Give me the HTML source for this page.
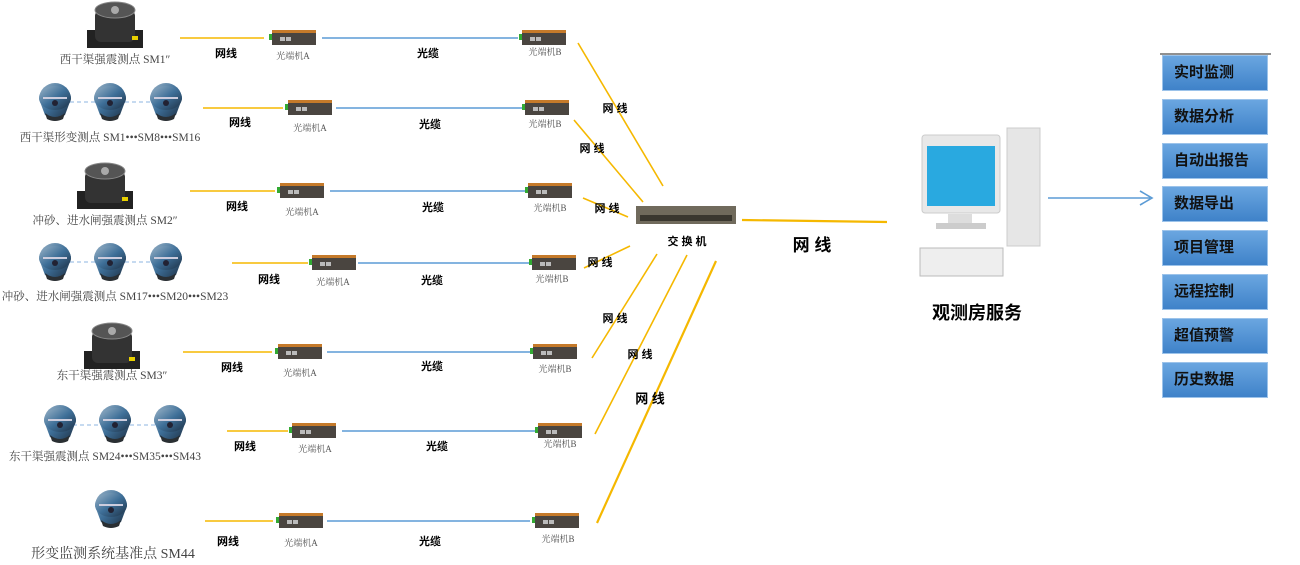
<!DOCTYPE html>
<html><head><meta charset="utf-8"><style>
body{margin:0;background:#fff;}
svg{display:block;font-family:"Liberation Serif","Noto Serif CJK SC",serif;}
.s{font-family:"Liberation Sans","Noto Sans CJK SC",sans-serif;}
.btn{position:absolute;left:1162px;width:106px;height:36px;background:linear-gradient(#6aa6e0,#3f82c9);border:1px solid #9cc3ea;box-sizing:border-box;font:bold 15px "Liberation Sans","Noto Sans CJK SC",sans-serif;color:#111;line-height:34px;padding-left:11px;}
</style></head><body>
<div style="position:relative;width:1300px;height:565px;overflow:hidden">
<svg width="1300" height="565">
<defs>
<linearGradient id="sg" x1="0" y1="0" x2="1" y2="1"><stop offset="0" stop-color="#9bb4c8"/><stop offset=".5" stop-color="#3e6f98"/><stop offset="1" stop-color="#1d3044"/></linearGradient>
<g id="dev"><rect x="-28" y="6" width="56" height="18" fill="#222"/><rect x="-20" y="-14" width="40" height="32" rx="6" fill="#333"/><ellipse cx="0" cy="-14" rx="20" ry="8" fill="#555" stroke="#888"/><circle cx="0" cy="-14" r="4" fill="#aaa"/><rect x="17" y="12" width="6" height="4" fill="#e8d000"/></g>
<g id="sen"><path d="M-16,-4 A16,16 0 0 1 16,-4 L10,12 Q0,18 -10,12 Z" fill="url(#sg)"/><ellipse cx="0" cy="-5" rx="16" ry="12" fill="url(#sg)"/><line x1="-12" y1="-5" x2="12" y2="-5" stroke="#ccd" stroke-width="2"/><circle cx="0" cy="0" r="3" fill="#223"/><path d="M-10,10 Q0,18 10,10 L8,16 Q0,20 -8,16Z" fill="#2a2f33"/></g>
<g id="cv"><rect x="0" y="0" width="44" height="15" fill="#4a4540"/><rect x="0" y="0" width="44" height="3" fill="#c57a2a"/><rect x="8" y="7" width="5" height="4" fill="#bbb"/><rect x="14" y="7" width="5" height="4" fill="#bbb"/><rect x="-3" y="4" width="3" height="6" fill="#3a3"/></g>
</defs>
<g stroke="#f5b800" stroke-width="1.6" fill="none">
<line x1="180" y1="38" x2="264" y2="38"/><line x1="203" y1="108" x2="283" y2="108"/><line x1="190" y1="191" x2="275" y2="191"/><line x1="232" y1="263" x2="308" y2="263"/><line x1="183" y1="352" x2="272" y2="352"/><line x1="227" y1="431" x2="288" y2="431"/><line x1="205" y1="521" x2="273" y2="521"/>
<line x1="578" y1="43" x2="663" y2="186"/><line x1="574" y1="120" x2="643" y2="202"/><line x1="583" y1="198" x2="628" y2="217"/><line x1="584" y1="268" x2="630" y2="246"/><line x1="592" y1="358" x2="657" y2="254"/><line x1="595" y1="434" x2="687" y2="255"/><line x1="597" y1="523" x2="716" y2="261" stroke-width="2.2"/>
<line x1="742" y1="220" x2="887" y2="222" stroke-width="2.2"/>
</g>
<g stroke="#5b9bd5" stroke-width="1.6">
<line x1="322" y1="38" x2="518" y2="38"/><line x1="336" y1="108" x2="522" y2="108"/><line x1="330" y1="191" x2="525" y2="191"/><line x1="358" y1="263" x2="530" y2="263"/><line x1="327" y1="352" x2="530" y2="352"/><line x1="342" y1="431" x2="535" y2="431"/><line x1="327" y1="521" x2="530" y2="521"/>
<line x1="1048" y1="198" x2="1150" y2="198"/><polyline points="1140,191 1152,198 1140,205" fill="none"/>
</g>
<g stroke="#8db4e2" stroke-dasharray="4,3"><line x1="70" y1="102" x2="95" y2="102"/><line x1="125" y1="102" x2="150" y2="102"/><line x1="70" y1="262" x2="95" y2="262"/><line x1="125" y1="262" x2="150" y2="262"/><line x1="73" y1="425" x2="98" y2="425"/><line x1="130" y1="425" x2="155" y2="425"/></g>
<use href="#dev" x="115" y="24"/><use href="#dev" x="105" y="185"/><use href="#dev" x="112" y="345"/>
<use href="#sen" x="55" y="103"/><use href="#sen" x="110" y="103"/><use href="#sen" x="166" y="103"/>
<use href="#sen" x="55" y="263"/><use href="#sen" x="110" y="263"/><use href="#sen" x="166" y="263"/>
<use href="#sen" x="60" y="425"/><use href="#sen" x="115" y="425"/><use href="#sen" x="170" y="425"/>
<use href="#sen" x="111" y="510"/>
<use href="#cv" x="272" y="30"/><use href="#cv" x="522" y="30"/>
<use href="#cv" x="288" y="100"/><use href="#cv" x="525" y="100"/>
<use href="#cv" x="280" y="183"/><use href="#cv" x="528" y="183"/>
<use href="#cv" x="312" y="255"/><use href="#cv" x="532" y="255"/>
<use href="#cv" x="278" y="344"/><use href="#cv" x="533" y="344"/>
<use href="#cv" x="292" y="423"/><use href="#cv" x="538" y="423"/>
<use href="#cv" x="279" y="513"/><use href="#cv" x="535" y="513"/>
<rect x="636" y="206" width="100" height="18" fill="#706a5c"/><rect x="640" y="215" width="92" height="6" fill="#3a372f"/>
<rect x="922" y="135" width="78" height="78" rx="3" fill="#e8e8e8" stroke="#ccc"/><rect x="927" y="146" width="68" height="60" fill="#29a9e0"/><rect x="948" y="214" width="24" height="10" fill="#ddd"/><rect x="936" y="223" width="50" height="6" fill="#ccc"/>
<rect x="1007" y="128" width="33" height="118" fill="#e6e6e6" stroke="#ccc"/><rect x="920" y="248" width="83" height="28" fill="#eee" stroke="#bbb"/>
<g fill="#555" font-size="9"><text x="293" y="59" text-anchor="middle">光端机A</text><text x="545" y="55" text-anchor="middle">光端机B</text><text x="310" y="131" text-anchor="middle">光端机A</text><text x="545" y="127" text-anchor="middle">光端机B</text><text x="302" y="215" text-anchor="middle">光端机A</text><text x="550" y="211" text-anchor="middle">光端机B</text><text x="333" y="285" text-anchor="middle">光端机A</text><text x="552" y="282" text-anchor="middle">光端机B</text><text x="300" y="376" text-anchor="middle">光端机A</text><text x="555" y="372" text-anchor="middle">光端机B</text><text x="315" y="452" text-anchor="middle">光端机A</text><text x="560" y="447" text-anchor="middle">光端机B</text><text x="301" y="546" text-anchor="middle">光端机A</text><text x="558" y="542" text-anchor="middle">光端机B</text></g>
<g fill="#444" font-size="11.5" text-anchor="middle"><text x="115" y="63">西干渠强震测点 SM1″</text><text x="110" y="141">西干渠形变测点 SM1•••SM8•••SM16</text><text x="105" y="224">冲砂、进水闸强震测点 SM2″</text><text x="115" y="300">冲砂、进水闸强震测点 SM17•••SM20•••SM23</text><text x="112" y="379">东干渠强震测点 SM3″</text><text x="105" y="460">东干渠强震测点 SM24•••SM35•••SM43</text><text x="113" y="558" font-size="14">形变监测系统基准点 SM44</text></g>
<g class="s" font-weight="bold" font-size="11" fill="#000" text-anchor="middle"><text x="226" y="57">网线</text><text x="240" y="126">网线</text><text x="237" y="210">网线</text><text x="269" y="283">网线</text><text x="232" y="371">网线</text><text x="245" y="450">网线</text><text x="228" y="545">网线</text>
<text x="428" y="57">光缆</text><text x="430" y="128">光缆</text><text x="433" y="211">光缆</text><text x="432" y="284">光缆</text><text x="432" y="370">光缆</text><text x="437" y="450">光缆</text><text x="430" y="545">光缆</text>
<text x="615" y="112">网 线</text><text x="592" y="152">网 线</text><text x="607" y="212">网 线</text><text x="600" y="266">网 线</text><text x="615" y="322">网 线</text><text x="640" y="358">网 线</text><text x="650" y="403" font-size="13">网 线</text>
<text x="687" y="245">交 换 机</text><text x="812" y="251" font-size="17">网 线</text><text x="977" y="319" font-size="18">观测房服务</text></g>
<line x1="1160" y1="54" x2="1271" y2="54" stroke="#222"/>
</svg>
<div class="btn" style="top:55px">实时监测</div><div class="btn" style="top:99px">数据分析</div><div class="btn" style="top:143px">自动出报告</div><div class="btn" style="top:186px">数据导出</div><div class="btn" style="top:230px">项目管理</div><div class="btn" style="top:274px">远程控制</div><div class="btn" style="top:318px">超值预警</div><div class="btn" style="top:362px">历史数据</div>
</div>
</body></html>
